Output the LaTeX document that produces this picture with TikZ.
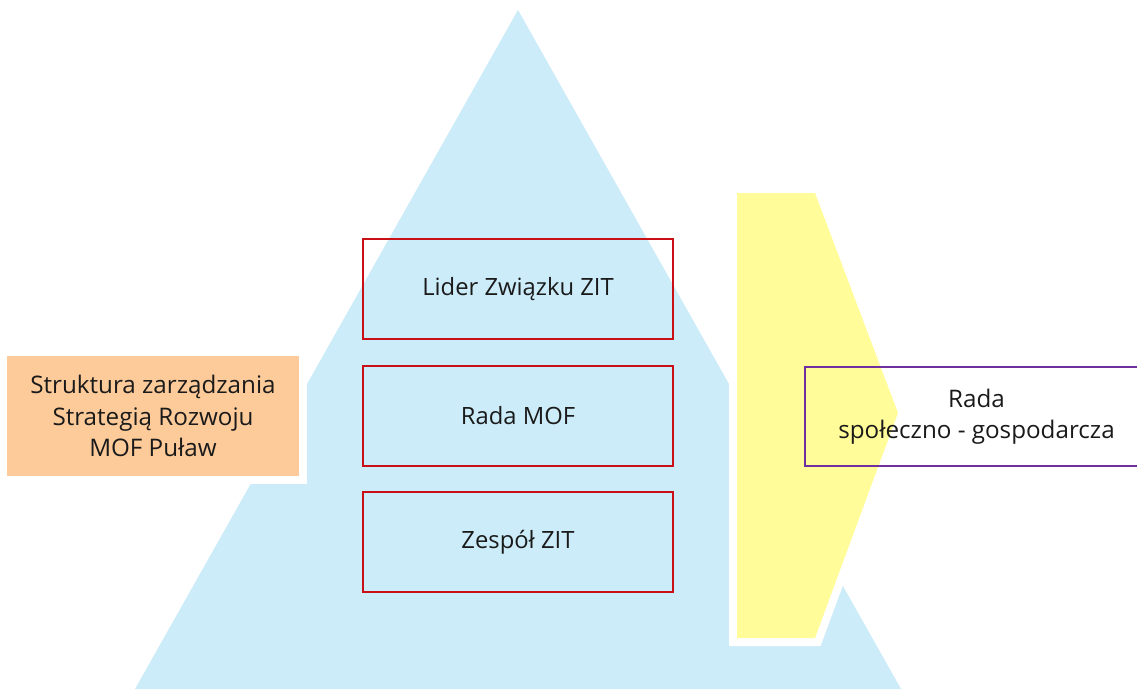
\documentclass[tikz,border=0pt]{standalone}
\usepackage{fontspec}
\setmainfont{Open Sans}
\definecolor{tri}{RGB}{204,236,249}
\definecolor{org}{RGB}{253,203,154}
\definecolor{yel}{RGB}{255,252,153}
\definecolor{redb}{RGB}{200,16,22}
\definecolor{purb}{RGB}{112,48,160}
\definecolor{txt}{RGB}{26,26,26}
\begin{document}
\begin{tikzpicture}[x=1pt,y=-1pt,
  lbl/.style={font=\fontsize{23.8}{31.5}\selectfont, text=txt, align=center},
  biglbl/.style={font=\fontsize{24.2}{31.5}\selectfont, text=txt, align=center},
  redbox/.style={lbl, draw=redb, line width=2.4pt, minimum width=310pt, minimum height=100pt, inner sep=0pt},
  orgbox/.style={biglbl, fill=org, minimum width=292pt, minimum height=120pt, inner sep=0pt},
  purbox/.style={biglbl, draw=purb, line width=2.4pt, minimum width=343pt, minimum height=99pt, inner sep=0pt}]
\useasboundingbox (0,0) rectangle (1137,689);
\fill[white] (0,0) rectangle (1137,689);
% pyramid
\fill[tri] (518,10) -- (901,689) -- (135,689) -- cycle;
% white margins
\fill[white] (-2,348) rectangle (307,484);
\draw[white, line width=16pt, line join=miter] (737,193) -- (815,193) -- (898,413) -- (815,638) -- (737,638) -- cycle;
% yellow pentagon
\fill[yel] (737,193) -- (815,193) -- (898,413) -- (815,638) -- (737,638) -- cycle;
% orange box
\node[orgbox] (struct) at (153,416) {Struktura zarządzania\\Strategią Rozwoju\\MOF Puław};
% red boxes
\node[redbox] (lider) at (518,289) {Lider Związku ZIT};
\node[redbox] (rada) at (518,416) {Rada MOF};
\node[redbox] (zespol) at (518,542) {Zespół ZIT};
% purple box
\node[purbox] (rsg) at (976.5,416.5) {Rada\\społeczno - gospodarcza};
\end{tikzpicture}
\end{document}
